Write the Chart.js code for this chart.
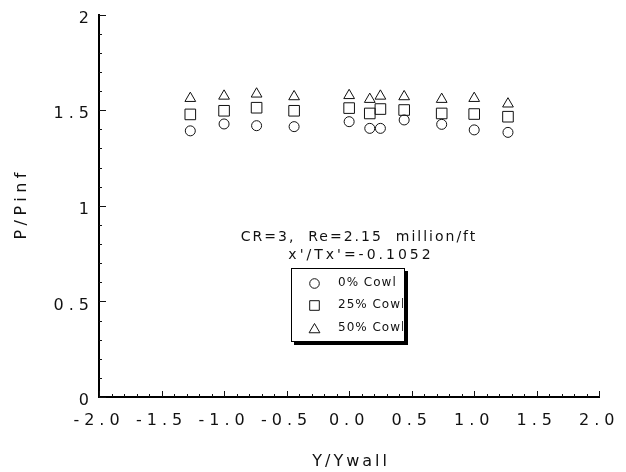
<!DOCTYPE html>
<html>
<head>
<meta charset="utf-8">
<script src="https://cdn.jsdelivr.net/npm/chart.js@4.4.0/dist/chart.umd.min.js"></script>
<style>
body { margin: 0; background: #fff; }
</style>
</head>
<body>
<canvas id="chartCowl" width="626" height="472"></canvas>
<script>
// spanwise station and pressure ratio for each cowl setting
var yWall = [-1.27, -1.0, -0.74, -0.44, 0.0, 0.165, 0.25, 0.44, 0.74, 1.0, 1.27];
var cowl0 = [1.392, 1.428, 1.419, 1.414, 1.44, 1.405, 1.405, 1.449, 1.426, 1.397, 1.384];
var cowl25 = [1.478, 1.497, 1.513, 1.497, 1.511, 1.483, 1.506, 1.501, 1.483, 1.480, 1.466];
var cowl50 = [1.562, 1.574, 1.585, 1.571, 1.577, 1.557, 1.574, 1.571, 1.557, 1.562, 1.533];

var seriesNames = ['0% Cowl', '25% Cowl', '50% Cowl'];
var seriesStyles = ['circle', 'rect', 'triangle'];
var xTicks = [-2.0, -1.5, -1.0, -0.5, 0.0, 0.5, 1.0, 1.5, 2.0];
var yTicks = [0, 0.5, 1, 1.5, 2];
var xTitle = 'Y/Ywall';
var yTitle = 'P/Pinf';
var noteLines = ['CR=3,  Re=2.15  million/ft', "x'/Tx'=-0.1052"];

var INK = '#111';
var FONT = '"DejaVu Sans", Verdana, sans-serif';

function pts(xs, ys) {
    return xs.map(function(x, i) { return { x: x, y: ys[i] }; });
}

function mark(ctx, style, x, y, r) {
    ctx.beginPath();
    if (style == 'circle') {
        ctx.arc(x, y, r, 0, Math.PI * 2);
    } else if (style == 'rect') {
        ctx.rect(x - r, y - r, 2 * r, 2 * r);
    } else {
        ctx.moveTo(x, y - r);
        ctx.lineTo(x + r * 1.08, y + r * 0.85);
        ctx.lineTo(x - r * 1.08, y + r * 0.85);
        ctx.closePath();
    }
    ctx.stroke();
}

// minor/major ticks pointing into the plot, titles, notes and legend box
var framePlugin = {
    id: 'frame',
    beforeDraw: function(chart) {
        chart.ctx.letterSpacing = '5px';
    },
    afterDraw: function(chart) {
        var ctx = chart.ctx;
        var xs = chart.scales.x, ys = chart.scales.y;
        var a = chart.chartArea;
        ctx.save();
        ctx.letterSpacing = '0px';
        ctx.strokeStyle = INK;
        ctx.lineWidth = 1;
        ctx.beginPath();
        for (var i = -20; i <= 20; i++) {
            var px = Math.round(xs.getPixelForValue(i / 10)) + 0.5;
            var len = (i % 5 == 0) ? 6 : 3;
            ctx.moveTo(px, a.bottom);
            ctx.lineTo(px, a.bottom - len);
        }
        for (var j = 0; j <= 20; j++) {
            var py = Math.round(ys.getPixelForValue(j / 10)) + 0.5;
            var ln = (j % 5 == 0) ? 7 : 3;
            ctx.moveTo(a.left, py);
            ctx.lineTo(a.left + ln, py);
        }
        ctx.stroke();

        // axis titles
        ctx.fillStyle = INK;
        ctx.textAlign = 'center';
        ctx.textBaseline = 'middle';
        ctx.font = '16px ' + FONT;
        ctx.letterSpacing = '3px';
        ctx.fillText(xTitle, (a.left + a.right) / 2 + 2, 462);
        ctx.save();
        ctx.translate(22, (a.top + a.bottom) / 2);
        ctx.rotate(-Math.PI / 2);
        ctx.letterSpacing = '4.5px';
        ctx.fillText(yTitle, 2, 0);
        ctx.restore();

        // run conditions
        ctx.font = '14px ' + FONT;
        ctx.letterSpacing = '2px';
        ctx.fillText(noteLines[0], 359, 237);
        ctx.letterSpacing = '3px';
        ctx.fillText(noteLines[1], 361, 255);

        // legend box with drop shadow
        var bx = 291, by = 268, bw = 114, bh = 74;
        ctx.fillStyle = '#000';
        ctx.fillRect(bx + 3, by + 3, bw, bh);
        ctx.fillStyle = '#fff';
        ctx.fillRect(bx, by, bw, bh);
        ctx.strokeStyle = '#000';
        ctx.strokeRect(bx + 0.5, by + 0.5, bw - 1, bh - 1);
        ctx.beginPath();
        ctx.rect(bx + 1, by + 1, bw - 3, bh - 2);
        ctx.clip();
        ctx.letterSpacing = '1px';
        ctx.font = '12px ' + FONT;
        ctx.textAlign = 'left';
        ctx.strokeStyle = INK;
        var rows = [283, 305, 328];
        var sizes = [4.8, 4.8, 5];
        for (var k = 0; k < seriesNames.length; k++) {
            mark(ctx, seriesStyles[k], 314.5, rows[k] + 0.5, sizes[k]);
            ctx.fillStyle = INK;
            ctx.fillText(seriesNames[k], 338, rows[k]);
        }
        ctx.restore();
        ctx.letterSpacing = '0px';
    }
};

var ds = function(label, data, style, r) {
    return {
        label: label,
        data: data,
        pointStyle: style,
        pointRadius: r,
        pointHoverRadius: r,
        borderColor: INK,
        borderWidth: 1,
        backgroundColor: 'rgba(0,0,0,0)',
        showLine: false
    };
};

new Chart(document.getElementById('chartCowl'), {
    type: 'scatter',
    data: {
        datasets: [
            ds(seriesNames[0], pts(yWall, cowl0), seriesStyles[0], 5),
            ds(seriesNames[1], pts(yWall, cowl25), seriesStyles[1], 7.5),
            ds(seriesNames[2], pts(yWall, cowl50), seriesStyles[2], 6.2)
        ]
    },
    options: {
        responsive: false,
        animation: false,
        devicePixelRatio: 1,
        layout: { padding: { top: 12, right: 25, left: 0, bottom: 0 } },
        plugins: {
            legend: { display: false },
            tooltip: { enabled: false }
        },
        scales: {
            x: {
                type: 'linear',
                min: -2,
                max: 2,
                afterFit: function(scale) { scale.height = 75; },
                afterBuildTicks: function(scale) {
                    scale.ticks = xTicks.map(function(v) { return { value: v }; });
                },
                grid: { display: false, drawTicks: false },
                border: { display: true, color: '#000', width: 2 },
                ticks: {
                    autoSkip: false,
                    maxRotation: 0,
                    padding: 14,
                    color: INK,
                    font: { family: FONT, size: 16 },
                    callback: function(v) { return Number(v).toFixed(1); }
                }
            },
            y: {
                type: 'linear',
                min: 0,
                max: 2,
                afterFit: function(scale) { scale.width = 99; },
                afterBuildTicks: function(scale) {
                    scale.ticks = yTicks.map(function(v) { return { value: v }; });
                },
                grid: { display: false, drawTicks: false },
                border: { display: true, color: '#000', width: 2 },
                ticks: {
                    autoSkip: false,
                    padding: 5,
                    labelOffset: 4,
                    color: INK,
                    font: { family: FONT, size: 16 },
                    callback: function(v) { return String(v); }
                }
            }
        }
    },
    plugins: [framePlugin]
});
</script>
</body>
</html>
